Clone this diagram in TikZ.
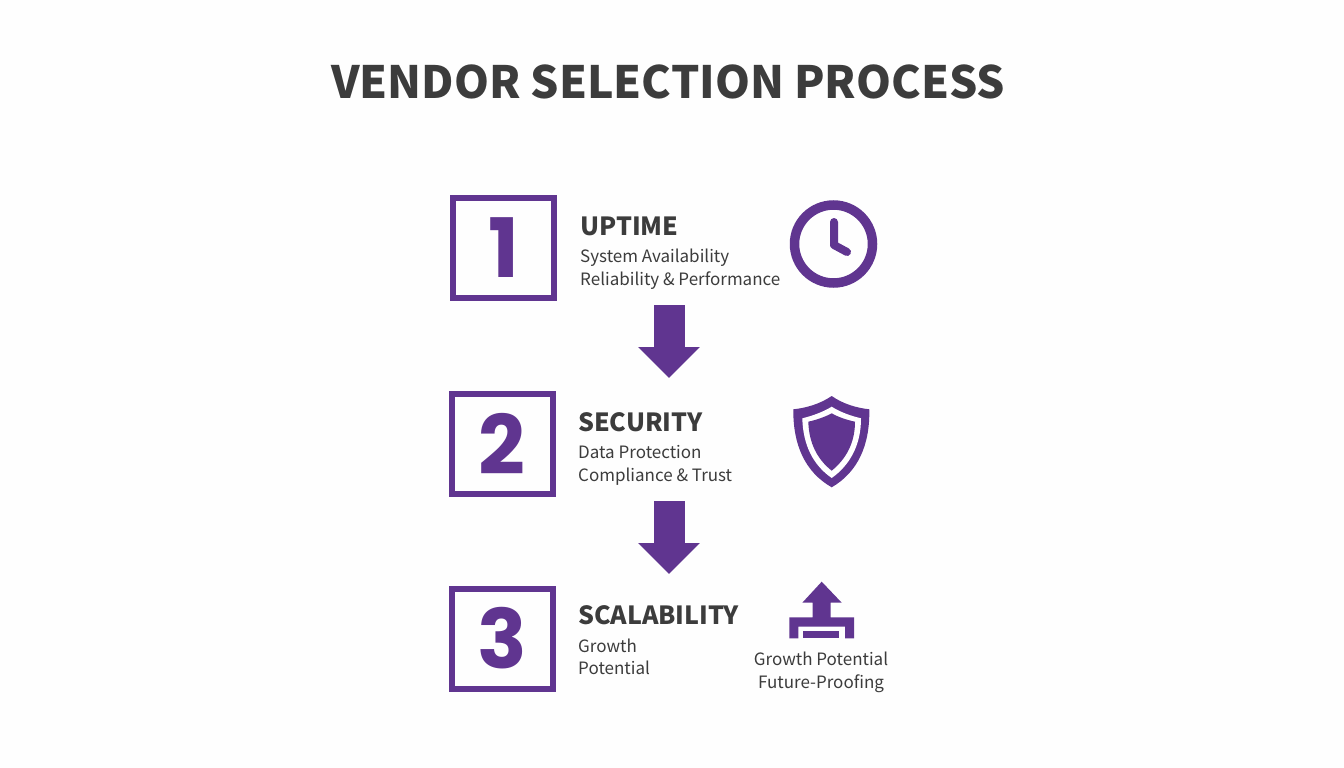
\documentclass[tikz,border=0pt]{standalone}
\usepackage{fontspec}
\setmainfont{Noto Sans CJK SC}
\newfontfamily\digitfont{Poppins}
\usetikzlibrary{arrows.meta,positioning}
\definecolor{vendorpurple}{HTML}{603590}
\definecolor{vendortext}{HTML}{3C3C3C}
\tikzset{
	stepbox/.style={draw=vendorpurple, line width=6pt, minimum width=101pt, minimum height=100pt, inner sep=0pt, text=vendorpurple, font=\fontsize{82}{82}\digitfont\bfseries},
	headtext/.style={anchor=base west, inner sep=0pt, text=vendortext, font=\fontsize{25}{26}\selectfont\bfseries},
	subtext/.style={anchor=base west, inner sep=0pt, text=vendortext, font=\fontsize{17}{18}\selectfont},
	icontext/.style={anchor=base, inner sep=0pt, text=vendortext, font=\fontsize{17}{18}\selectfont},
	downarrow/.style={vendorpurple, line width=31pt, -{Triangle[length=31pt, width=60pt]}, shorten >=0pt},
}
\begin{document}
\begin{tikzpicture}[x=1pt, y=-1pt]
	\useasboundingbox (0,0) rectangle (1344,768);
	\fill[white!99.5!black] (0,0) rectangle (1344,768);
	%title
	\node[anchor=base, inner sep=0pt, text=vendortext, font=\fontsize{44.5}{46}\selectfont\bfseries] (title) at (668,98) {VENDOR SELECTION PROCESS};
	%
	%boxes
	\node[stepbox] (box1) at (503.5,247.5) {1};
	\node[stepbox] (box2) at (502,444) {2};
	\node[stepbox] (box3) at (502,638.5) {3};
	%
	%texts
	\node[headtext] (head1) at (580,235) {UPTIME};
	\node[subtext] (sub1a) at (580,262) {System Availability};
	\node[subtext] (sub1b) at (580,285) {Reliability \& Performance};
	\node[headtext] (head2) at (578,431) {SECURITY};
	\node[subtext] (sub2a) at (578,458) {Data Protection};
	\node[subtext] (sub2b) at (578,481) {Compliance \& Trust};
	\node[headtext] (head3) at (578,624) {SCALABILITY};
	\node[subtext] (sub3a) at (578,652) {Growth};
	\node[subtext] (sub3b) at (578,674) {Potential};
	\node[icontext] (icon3a) at (821,665) {Growth Potential};
	\node[icontext] (icon3b) at (821,688) {Future-Proofing};
	%
	%arrows
	\coordinate (from1) at (669,305);
	\coordinate (to1) at (669,378);
	\coordinate (from2) at (669,501);
	\coordinate (to2) at (669,574);
	\draw[downarrow] (from1) -- (to1);
	\draw[downarrow] (from2) -- (to2);
	%
	%clock
	\draw[vendorpurple, line width=9.5pt] (833.5,244) circle (39);
	\draw[vendorpurple, line width=8pt, line cap=round, line join=round] (834,222) -- (834,245) -- (847,252);
	%
	%shield
	\fill[vendorpurple] (831.7,396) .. controls (820,404) and (806,408) .. (793.3,409.3) .. controls (793,445) and (805,472) .. (831.7,487.3) .. controls (858,472) and (870,445) .. (869.3,409.3) .. controls (857,408) and (843,404) .. (831.7,396) -- cycle;
	\fill[white] (831.7,406.7) .. controls (823,412) and (812,416) .. (802.3,418.3) .. controls (803,445) and (813,465) .. (831.7,478) .. controls (850,465) and (861,445) .. (861,418.3) .. controls (851,416) and (840,412) .. (831.7,406.7) -- cycle;
	\fill[vendorpurple] (831.7,413.3) .. controls (825,417) and (816,420) .. (808.3,421.7) .. controls (809,443) and (817,459) .. (831.7,470.7) .. controls (846,459) and (855,443) .. (855,421.7) .. controls (847,420) and (838,417) .. (831.7,413.3) -- cycle;
	%
	%growth icon
	\fill[vendorpurple] (821.7,581.7) -- (841.7,602.7) -- (830.7,602.7) -- (830.7,617.3) -- (854,617.3) -- (854,638.3) -- (845,638.3) -- (845,626.7) -- (798.3,626.7) -- (798.3,638.3) -- (789.3,638.3) -- (789.3,617.3) -- (812.7,617.3) -- (812.7,602.7) -- (802.3,602.7) -- cycle;
	\fill[vendorpurple] (803.3,630.7) rectangle (839,638.3);
\end{tikzpicture}
\end{document}
